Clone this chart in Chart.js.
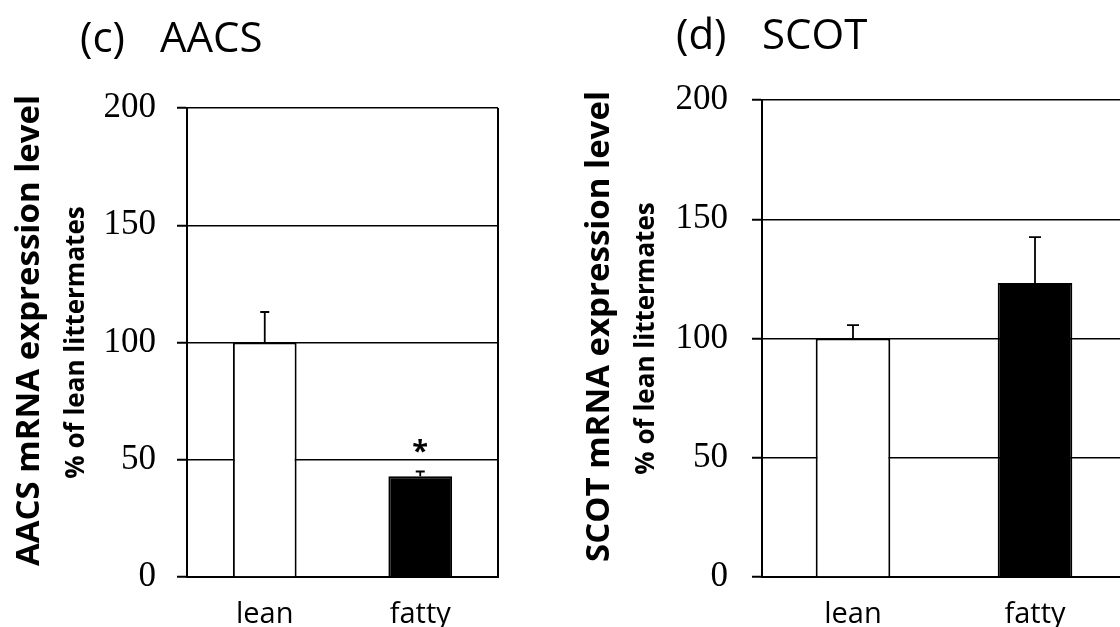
<!DOCTYPE html>
<html>
<head>
<meta charset="utf-8">
<script src="https://cdn.jsdelivr.net/npm/chart.js@4.4.0/dist/chart.umd.min.js"></script>
<style>
  html, body { margin: 0; padding: 0; background: #fff; overflow: hidden; }
  body { width: 1120px; height: 627px; position: relative; }
  .panel { position: absolute; top: 0; height: 627px; }
  #panelC { left: 0; width: 560px; }
  #panelD { left: 560px; width: 580px; }
</style>
</head>
<body>
<div class="panel" id="panelC"><canvas id="chartC"></canvas></div>
<div class="panel" id="panelD"><canvas id="chartD"></canvas></div>

<script>
// data
const categories = ['lean', 'fatty'];
const yTicks = [0, 50, 100, 150, 200];

const aacsMeans = [100, 43];
const aacsErrors = [13, 2];
const aacsMarks = ['', '*'];

const scotMeans = [100, 123.3];
const scotErrors = [5.6, 19.2];
const scotMarks = ['', ''];

const barFills = ['#ffffff', '#000000'];

// draws one-sided error bars, significance marks and the right frame edge
const extrasPlugin = {
  id: 'extras',
  beforeDatasetsDraw(chart) {
    const { ctx, chartArea } = chart;
    if (!chart.options.plugins.extras.frame) return;
    ctx.save();
    ctx.strokeStyle = '#000';
    ctx.lineWidth = 2;
    ctx.beginPath();
    ctx.moveTo(chartArea.right, chartArea.top);
    ctx.lineTo(chartArea.right, chartArea.bottom);
    ctx.stroke();
    ctx.restore();
  },
  afterDatasetsDraw(chart) {
    const { ctx } = chart;
    const opts = chart.options.plugins.extras;
    const ds = chart.data.datasets[0];
    const meta = chart.getDatasetMeta(0);
    const y = chart.scales.y;
    ctx.save();
    ctx.strokeStyle = '#000';
    ctx.fillStyle = '#000';
    ctx.lineWidth = 1.8;
    meta.data.forEach((bar, i) => {
      const top = y.getPixelForValue(ds.data[i] + ds.errors[i]);
      ctx.beginPath();
      ctx.moveTo(bar.x, bar.y);
      ctx.lineTo(bar.x, top);
      ctx.moveTo(bar.x - opts.cap / 2, top);
      ctx.lineTo(bar.x + opts.cap / 2, top);
      ctx.stroke();
      if (ds.marks[i]) {
        ctx.font = 'bold 29px "Open Sans"';
        ctx.textAlign = 'center';
        ctx.textBaseline = 'middle';
        ctx.fillText(ds.marks[i], bar.x, top - 19);
      }
    });
    ctx.restore();
  },
  afterDraw(chart) {
    const { ctx } = chart;
    const opts = chart.options.plugins.extras;
    ctx.save();
    ctx.fillStyle = '#000';
    // panel heading
    ctx.font = '42px "Open Sans"';
    ctx.textAlign = 'left';
    ctx.textBaseline = 'alphabetic';
    ctx.fillText(opts.letter, opts.letterX, opts.headY);
    ctx.fillText(opts.gene, opts.geneX, opts.headY);
    // rotated axis titles
    const mid = (chart.chartArea.top + chart.chartArea.bottom) / 2;
    ctx.textAlign = 'center';
    [[opts.yTitle, opts.yTitleX, 'bold 33px "Open Sans"', -12],
     [opts.ySub, opts.ySubX, 'bold 26px "Open Sans"', 0]].forEach(([txt, x, font, dy]) => {
      ctx.save();
      ctx.translate(x, mid + dy);
      ctx.rotate(-Math.PI / 2);
      ctx.font = font;
      ctx.fillText(txt, 0, 0);
      ctx.restore();
    });
    ctx.restore();
  }
};

function makeChart(id, means, errors, marks, cfg) {
  return new Chart(document.getElementById(id), {
    type: 'bar',
    data: {
      labels: categories,
      datasets: [{
        data: means,
        errors: errors,
        marks: marks,
        backgroundColor: barFills,
        borderColor: '#000',
        borderWidth: 2,
        barPercentage: 0.41,
        categoryPercentage: 1
      }]
    },
    options: {
      responsive: true,
      maintainAspectRatio: false,
      animation: false,
      layout: { padding: { left: 0, top: cfg.top, right: cfg.right, bottom: 0 } },
      plugins: {
        legend: { display: false },
        tooltip: { enabled: false },
        extras: cfg.extras
      },
      scales: {
        y: {
          min: 0,
          max: 200,
          afterBuildTicks: (scale) => { scale.ticks = yTicks.map(v => ({ value: v })); },
          afterFit: (scale) => { scale.width = cfg.left; },
          ticks: {
            color: '#000',
            padding: cfg.tickPad,
            font: { family: '"Liberation Serif", "Times New Roman", serif', size: 35 }
          },
          grid: { color: '#000', lineWidth: 1.5, tickLength: 10, tickColor: '#000', tickWidth: 2 },
          border: { display: true, color: '#000', width: 2 }
        },
        x: {
          afterFit: (scale) => { scale.height = cfg.bottom; },
          ticks: {
            color: '#000',
            padding: 20,
            font: { family: '"Open Sans", sans-serif', size: 29 }
          },
          grid: { display: false, drawTicks: false, tickLength: 0 },
          border: { display: true, color: '#000', width: 2 }
        }
      }
    },
    plugins: [extrasPlugin]
  });
}

makeChart('chartC', aacsMeans, aacsErrors, aacsMarks, {
  left: 187, right: 62, top: 108, bottom: 50, tickPad: 21,
  extras: {
    frame: true, cap: 9,
    letter: '(c)', letterX: 80, gene: 'AACS', geneX: 160, headY: 52,
    yTitle: 'AACS mRNA expression level', yTitleX: 39,
    ySub: '% of lean littermates', ySubX: 84
  }
});

makeChart('chartD', scotMeans, scotErrors, scotMarks, {
  left: 202, right: 14, top: 100, bottom: 50, tickPad: 24,
  extras: {
    frame: false, cap: 12,
    letter: '(d)', letterX: 116, gene: 'SCOT', geneX: 202, headY: 49,
    yTitle: 'SCOT mRNA expression level', yTitleX: 49,
    ySub: '% of lean littermates', ySubX: 94
  }
});
</script>
</body>
</html>
